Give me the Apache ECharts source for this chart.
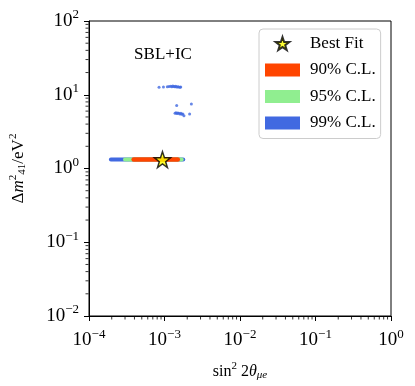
<!DOCTYPE html>
<html>
<head>
<meta charset="utf-8">
<script src="https://cdn.jsdelivr.net/npm/echarts@6/dist/echarts.min.js"></script>
<style>html,body{margin:0;padding:0;background:#fff;}#c{width:415px;height:386px;}</style>
</head>
<body>
<div id="c"></div>
<script>
// ---- data ----
const bestFit = [[9.4e-4, 1.32]];
const band90 = [[3.9e-4, 1.32], [1.5e-3, 1.32]];
const band95 = [[3.0e-4, 1.32], [1.69e-3, 1.32]];
const band99 = [[1.95e-4, 1.32], [1.77e-3, 1.32]];
const islands99 = [
  [8.47e-4, 12.6], [9.68e-4, 12.7], [1.09e-3, 12.8], [1.15e-3, 12.9], [1.21e-3, 13.0],
  [1.25e-3, 12.8], [1.29e-3, 13.1], [1.33e-3, 12.9], [1.37e-3, 12.8], [1.41e-3, 13.0],
  [1.45e-3, 12.7], [1.50e-3, 12.8], [1.54e-3, 12.7], [1.60e-3, 12.6], [1.64e-3, 12.7],
  [1.45e-3, 7.16], [2.27e-3, 7.48],
  [1.38e-3, 5.6], [1.42e-3, 5.7], [1.46e-3, 5.55], [1.50e-3, 5.65], [1.55e-3, 5.6],
  [1.60e-3, 5.5], [1.65e-3, 5.6], [1.70e-3, 5.45], [1.75e-3, 5.5], [1.81e-3, 5.2],
  [2.15e-3, 5.48]
];
const xMinorTicks = [2e-4,3e-4,4e-4,5e-4,6e-4,7e-4,8e-4,9e-4,
  2e-3,3e-3,4e-3,5e-3,6e-3,7e-3,8e-3,9e-3,
  2e-2,3e-2,4e-2,5e-2,6e-2,7e-2,8e-2,9e-2,
  0.2,0.3,0.4,0.5,0.6,0.7,0.8,0.9];
const yMinorTicks = [0.02,0.03,0.04,0.05,0.06,0.07,0.08,0.09,
  0.2,0.3,0.4,0.5,0.6,0.7,0.8,0.9,
  2,3,4,5,6,7,8,9,
  20,30,40,50,60,70,80,90];
const xRange = [1e-4, 1];
const yRange = [1e-2, 1e2];
const seriesNames = ['Best Fit', '90% C.L.', '95% C.L.', '99% C.L.'];
const annotation = 'SBL+IC';

const FONT = 'Liberation Serif';
const RED = '#ff4500', GREEN = '#90ee90', BLUE = '#4169e1';
const STAR = 'path://M50,0 L61.8,35.1 L97.6,34.5 L69,56.9 L79.4,90.5 L50,70 L20.6,90.5 L31,56.9 L2.4,34.5 L38.2,35.1 Z';

function powLabel(v) {
  const e = Math.round(Math.log10(v));
  return '{b|10}{s|' + (e < 0 ? '\u2212' + (-e) : e) + '}';
}
const tickRich = {
  b: {fontFamily: FONT, fontSize: 19, color: '#000'},
  s: {fontFamily: FONT, fontSize: 13, color: '#000', padding: [0, 0, 12, 0]}
};

const chart = echarts.init(document.getElementById('c'), null, {renderer: 'canvas'});

function bandSeries(name, data, color, width) {
  return {
    name: name, type: 'line', data: data, symbol: 'none', silent: true,
    lineStyle: {color: color, width: width, cap: 'round'},
    itemStyle: {color: color}, z: 3
  };
}

chart.setOption({
  animation: false,
  grid: {left: 88, top: 21, width: 303, height: 296, show: true, borderColor: '#000', borderWidth: 1, backgroundColor: 'transparent'},
  xAxis: {
    type: 'log', logBase: 10, min: xRange[0], max: xRange[1],
    axisLine: {show: true, lineStyle: {color: '#000', width: 1}},
    axisTick: {show: true, length: 5, lineStyle: {color: '#000'}},
    splitLine: {show: false},
    axisLabel: {margin: 12, formatter: powLabel, rich: tickRich},
    name: '{t|sin}{sp|2}{t| 2}{it|\u03b8}{sub|\u03bce}',
    nameLocation: 'middle', nameGap: 45,
    nameTextStyle: {
      rich: {
        t: {fontFamily: FONT, fontSize: 16, color: '#000'},
        it: {fontFamily: FONT, fontSize: 16, fontStyle: 'italic', color: '#000'},
        sp: {fontFamily: FONT, fontSize: 11, color: '#000', padding: [0, 0, 10, 0]},
        sub: {fontFamily: FONT, fontSize: 11, fontStyle: 'italic', color: '#000', padding: [8, 0, 0, 0]}
      }
    }
  },
  yAxis: {
    type: 'log', logBase: 10, min: yRange[0], max: yRange[1],
    axisLine: {show: true, lineStyle: {color: '#000', width: 1}},
    axisTick: {show: true, length: 5, lineStyle: {color: '#000'}},
    splitLine: {show: false},
    axisLabel: {margin: 10, formatter: powLabel, rich: tickRich},
    name: '{t|\u0394}{it|m}{sp|2}{sub|41}{t|/eV}{sp|2}',
    nameLocation: 'middle', nameGap: 60, nameRotate: 90,
    nameTextStyle: {
      rich: {
        t: {fontFamily: FONT, fontSize: 17, color: '#000'},
        it: {fontFamily: FONT, fontSize: 17, fontStyle: 'italic', color: '#000'},
        sp: {fontFamily: FONT, fontSize: 11, color: '#000', padding: [0, 0, 10, 0]},
        sub: {fontFamily: FONT, fontSize: 11, color: '#000', padding: [8, 0, 0, 0]}
      }
    }
  },
  legend: {
    orient: 'vertical', left: 259, top: 29,
    padding: [6, 5, 7, 6], itemWidth: 35, itemHeight: 13, itemGap: 9.5,
    backgroundColor: 'rgba(255,255,255,0.8)', borderColor: '#cccccc', borderWidth: 1, borderRadius: 4,
    textStyle: {fontFamily: FONT, fontSize: 17, color: '#000', padding: [0, 0, 0, 5]},
    data: [
      {name: seriesNames[0], icon: STAR},
      {name: seriesNames[1], icon: 'rect'},
      {name: seriesNames[2], icon: 'rect'},
      {name: seriesNames[3], icon: 'rect'}
    ]
  },
  graphic: [{
    type: 'text', x: 163, y: 55,
    style: {text: annotation, fontFamily: FONT, fontSize: 17, fill: '#000', align: 'center', verticalAlign: 'middle'}
  }],
  series: [
    bandSeries(seriesNames[3], band99, BLUE, 4),
    bandSeries(seriesNames[2], band95, GREEN, 4),
    bandSeries(seriesNames[1], band90, RED, 4.5),
    {
      name: seriesNames[3], type: 'scatter', data: islands99, symbol: 'circle', symbolSize: 3,
      itemStyle: {color: BLUE}, silent: true, z: 3
    },
    {
      name: seriesNames[0], type: 'scatter', data: bestFit, symbol: STAR, symbolSize: 16,
      itemStyle: {color: '#ffff00', borderColor: '#000', borderWidth: 1.5}, z: 5, silent: true
    },
    {
      name: 'xminor', type: 'scatter', silent: true, clip: false, z: 6,
      data: xMinorTicks.map(v => [v, yRange[0]]),
      symbol: 'rect', symbolSize: [1, 3], symbolOffset: [0, 2],
      itemStyle: {color: '#000'}
    },
    {
      name: 'yminor', type: 'scatter', silent: true, clip: false, z: 6,
      data: yMinorTicks.map(v => [xRange[0], v]),
      symbol: 'rect', symbolSize: [3, 1], symbolOffset: [-2, 0],
      itemStyle: {color: '#000'}
    }
  ]
});
</script>
</body>
</html>
